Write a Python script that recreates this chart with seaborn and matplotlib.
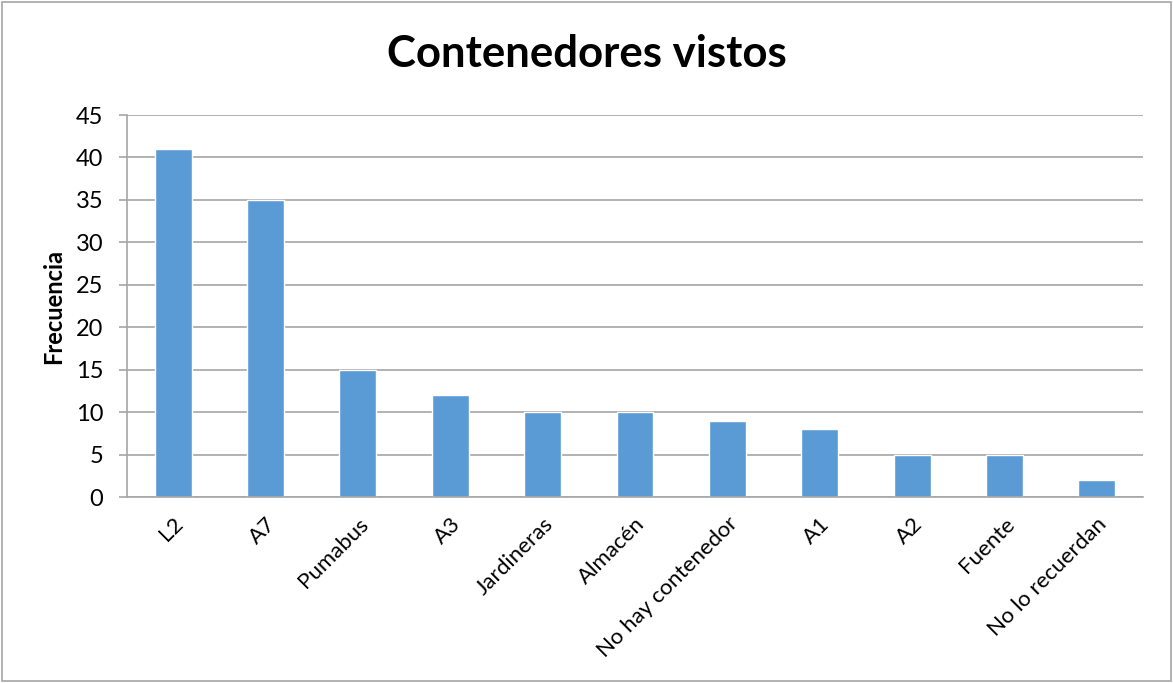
import matplotlib
matplotlib.use("Agg")
import matplotlib.pyplot as plt
import seaborn as sns
import pandas as pd

categorias = ["L2", "A7", "Pumabus", "A3", "Jardineras", "Almacén",
              "No hay contenedor", "A1", "A2", "Fuente", "No lo recuerdan"]
frecuencias = [41, 35, 15, 12, 10, 10, 9, 8, 5, 5, 2]
yticks = [0, 5, 10, 15, 20, 25, 30, 35, 40, 45]

df = pd.DataFrame({"categoria": categorias, "frecuencia": frecuencias})

sns.set_theme(style="white")
plt.rcParams["font.family"] = ["Lato", "DejaVu Sans"]
plt.rcParams["text.color"] = "black"
plt.rcParams["xtick.color"] = "black"
plt.rcParams["ytick.color"] = "black"
plt.rcParams["axes.labelcolor"] = "black"

fig = plt.figure(figsize=(11.73, 6.83), dpi=100)
ax = fig.add_axes([127 / 1173, 1 - 497 / 683, (1143 - 127) / 1173, (497 - 115) / 683])

sns.barplot(data=df, x="categoria", y="frecuencia", color="#5B9BD5",
            saturation=1, width=0.4, ax=ax)

ax.set_ylim(0, 45)
ax.set_xlim(-0.5, len(categorias) - 0.5)
ax.set_yticks(yticks)
ax.set_yticklabels([str(v) for v in yticks], fontsize=17)
ax.yaxis.grid(True, color="#A6A6A6", linewidth=1.2)
ax.set_axisbelow(True)
ax.tick_params(axis="y", length=6, width=1.2, color="#A6A6A6", labelcolor="black",
               pad=11, left=True)
ax.tick_params(axis="x", length=0, pad=12)

for side in ["top", "right"]:
    ax.spines[side].set_visible(False)
for side in ["left", "bottom"]:
    ax.spines[side].set_color("#A6A6A6")
    ax.spines[side].set_linewidth(1.2)

ax.set_xticks(range(len(categorias)))
ax.set_xticklabels(categorias, rotation=45, ha="right", rotation_mode="anchor",
                   fontsize=16)
ax.set_xlabel("")
ax.set_ylabel("Frecuencia", fontsize=17, fontweight="bold", labelpad=8)

fig.suptitle("Contenedores vistos", fontsize=31.5, fontweight="bold", y=1 - 54 / 683,
             va="center")

# chart frame
fig.patches.append(plt.Rectangle((2 / 1173, 2 / 683), 1 - 4 / 1173, 1 - 4 / 683,
                                 transform=fig.transFigure, fill=False,
                                 edgecolor="#A6A6A6", linewidth=1.2))

fig.savefig("out.png", dpi=100)
